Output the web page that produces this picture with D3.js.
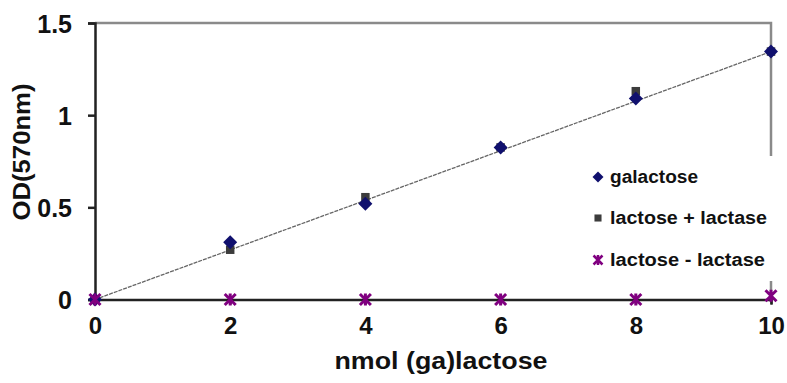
<!DOCTYPE html>
<html>
<head>
<script src="https://d3js.org/d3.v7.min.js"></script>
<style>
  body { margin: 0; background: #fff; }
  text { font-family: "Liberation Sans", Arial, sans-serif; font-weight: bold; fill: #111; }
</style>
</head>
<body>
<script>
// data
var xValues = [0, 2, 4, 6, 8, 10];
var galactose = [0, 0.31, 0.52, 0.825, 1.09, 1.345];
var lactosePlus = [0, 0.27, 0.555, 0.825, 1.13, 1.345];
var lactoseMinus = [0, 0, 0, 0, 0, 0.02];
var trendX = [0, 10];
var trendY = [0, 1.345];
var xTicks = [0, 2, 4, 6, 8, 10];
var yTicks = [0, 0.5, 1, 1.5];
var legendNames = ["galactose", "lactose + lactase", "lactose - lactase"];

var width = 787, height = 383;
var plotLeft = 95, plotRight = 771, plotTop = 23, plotBottom = 299.5;

var svg = d3.select("body").append("svg")
  .attr("width", width)
  .attr("height", height);

var x = d3.scaleLinear().domain([0, 10]).range([plotLeft, plotRight]);
var y = d3.scaleLinear().domain([0, 1.5]).range([plotBottom, plotTop]);

// plot border (top + right), gray
svg.append("path")
  .attr("d", "M" + plotLeft + "," + plotTop + "H" + plotRight + "V" + plotBottom)
  .attr("fill", "none").attr("stroke", "#8a8a8a").attr("stroke-width", 2.5);

// trend line
svg.append("line")
  .attr("x1", x(trendX[0])).attr("y1", y(trendY[0]))
  .attr("x2", x(trendX[1])).attr("y2", y(trendY[1]))
  .attr("stroke", "#666").attr("stroke-width", 1.3)
  .attr("stroke-dasharray", "4,1");

// axes
var yAxis = svg.append("g")
  .attr("transform", "translate(" + plotLeft + ",0)")
  .call(d3.axisLeft(y).tickValues(yTicks).tickSize(7).tickPadding(16)
    .tickFormat(function(d){ return d3.format("~g")(d); }));
yAxis.select(".domain").attr("stroke", "#222").attr("stroke-width", 2.5);
yAxis.selectAll(".tick line").attr("stroke", "#222").attr("stroke-width", 2.5);
yAxis.selectAll(".tick text").style("font-size", "25px").attr("dy", "0.36em");

var xAxis = svg.append("g")
  .attr("transform", "translate(0," + plotBottom + ")")
  .call(d3.axisBottom(x).tickValues(xTicks).tickSize(5).tickPadding(12));
xAxis.select(".domain").attr("stroke", "#222").attr("stroke-width", 2.5);
xAxis.selectAll(".tick line").attr("stroke", "#222").attr("stroke-width", 2);
xAxis.selectAll(".tick text").style("font-size", "24px");

// axis titles
svg.append("text")
  .attr("x", 441).attr("y", 369)
  .attr("text-anchor", "middle")
  .attr("textLength", 213).attr("lengthAdjust", "spacingAndGlyphs")
  .style("font-size", "23px")
  .text("nmol (ga)lactose");

svg.append("text")
  .attr("transform", "translate(30,152) rotate(-90)")
  .attr("text-anchor", "middle")
  .attr("textLength", 137).attr("lengthAdjust", "spacingAndGlyphs")
  .style("font-size", "23px")
  .text("OD(570nm)");

// markers
function diamondPath(r) { return "M0," + (-r) + "L" + r + ",0L0," + r + "L" + (-r) + ",0Z"; }
var square = d3.symbol().type(d3.symbolSquare).size(72);
var starPath = "M-5.5,-5.5L5.5,5.5M-5.5,5.5L5.5,-5.5M0,-6V6";

function drawSeries(vals, fn) {
  svg.append("g").selectAll("g")
    .data(vals)
    .enter().append("g")
    .attr("transform", function(d, i){ return "translate(" + x(xValues[i]) + "," + y(d) + ")"; })
    .each(fn);
}

drawSeries(lactosePlus, function(){
  d3.select(this).append("path").attr("d", square).attr("fill", "#3c3c3c");
});
drawSeries(galactose, function(){
  d3.select(this).append("path").attr("d", diamondPath(7)).attr("fill", "#10106e");
});

// legend box (white, covers part of plot area)
var lg = svg.append("g");
lg.append("rect")
  .attr("x", 584).attr("y", 156).attr("width", 200).attr("height", 125)
  .attr("fill", "#fff");

drawSeries(lactoseMinus, function(){
  d3.select(this).append("path").attr("d", starPath)
    .attr("stroke", "#800080").attr("stroke-width", 3).attr("fill", "none");
});

var legendY = [177, 218, 260];
var legendLen = [88, 157, 155];
legendNames.forEach(function(name, i){
  var g = lg.append("g").attr("transform", "translate(598," + legendY[i] + ")");
  if (i === 0) g.append("path").attr("d", diamondPath(5.5)).attr("fill", "#10106e");
  if (i === 1) g.append("path").attr("d", d3.symbol().type(d3.symbolSquare).size(50)).attr("fill", "#3c3c3c");
  if (i === 2) g.append("path").attr("d", "M-4.5,-4.5L4.5,4.5M-4.5,4.5L4.5,-4.5M0,-5V5")
    .attr("stroke", "#800080").attr("stroke-width", 2.5).attr("fill", "none");
  g.append("text")
    .attr("x", 12).attr("y", 6)
    .attr("textLength", legendLen[i]).attr("lengthAdjust", "spacingAndGlyphs")
    .style("font-size", "18px")
    .text(name);
});
</script>
</body>
</html>
